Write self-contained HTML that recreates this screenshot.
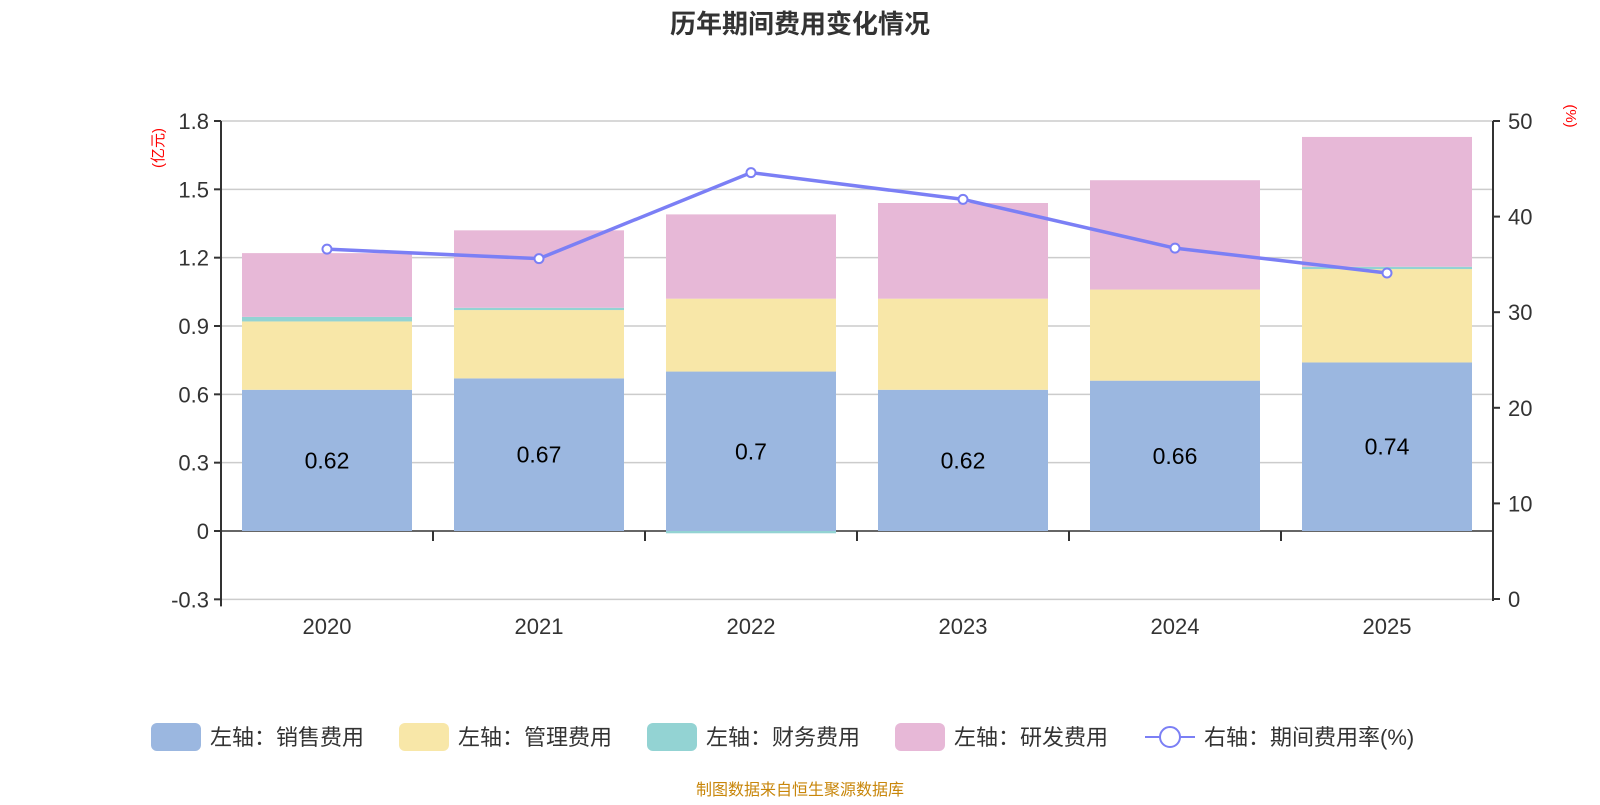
<!DOCTYPE html>
<html><head><meta charset="utf-8"><style>
body{margin:0;background:#fff;}
svg text{font-family:"Liberation Sans","Noto Sans CJK SC",sans-serif;}
</style></head><body>
<svg id="c" width="1600" height="800" xmlns="http://www.w3.org/2000/svg">
<text x="800" y="33" text-anchor="middle" font-size="26" font-weight="bold" fill="#333">历年期间费用变化情况</text>
<text transform="translate(163,148) rotate(-90)" text-anchor="middle" font-size="15" fill="#f00">(亿元)</text>
<text transform="translate(1566,116) rotate(90)" text-anchor="middle" font-size="15" fill="#f00">(%)</text>
<g id="grid"></g><g id="bars"></g><g id="axes"></g><g id="line"></g>
<text x="800" y="795" text-anchor="middle" font-size="16" fill="#c8860a">制图数据来自恒生聚源数据库</text>
</svg>
<script>
const categories=["2020","2021","2022","2023","2024","2025"];
const sales=[0.62,0.67,0.70,0.62,0.66,0.74];
const admin=[0.30,0.30,0.32,0.40,0.40,0.41];
const finance=[0.02,0.01,-0.01,0,0,0.01];
const rnd=[0.28,0.34,0.37,0.42,0.48,0.57];
const rate=[36.6,35.6,44.6,41.8,36.7,34.1];
const leftTicks=[-0.3,0,0.3,0.6,0.9,1.2,1.5,1.8];
const rightTicks=[0,10,20,30,40,50];
const NS="http://www.w3.org/2000/svg";
const L=221,R=1493,yTop=121,yZero=531;
const yL=v=>yZero-(v/0.3)*((yZero-yTop)/6);
const yR=v=>599-(v/50)*(599-yTop);
const band=(R-L)/categories.length;
const xC=i=>L+band*(i+0.5);
const bw=170;
function mk(tag,attrs,parent){const e=document.createElementNS(NS,tag);for(const k in attrs)e.setAttribute(k,attrs[k]);document.getElementById(parent).appendChild(e);return e;}
leftTicks.forEach(t=>{
 const y=yL(t);
 const g=mk('line',{x1:L,x2:R,y1:y,y2:y,stroke:t===0?'#333':'#ccc','stroke-width':1.5},'grid');
 
 
 const tl=mk('text',{x:L-12,y:y+8,'text-anchor':'end','font-size':22,fill:'#333'},'axes');tl.textContent=String(t);
 
 
 mk('line',{x1:L-7,x2:L,y1:y,y2:y,stroke:'#333','stroke-width':2},'axes');
});
rightTicks.forEach(t=>{
 const y=yR(t);
 const tl=mk('text',{x:R+15,y:y+8,'font-size':22,fill:'#333'},'axes');tl.textContent=String(t);
 
 
 mk('line',{x1:R,x2:R+7,y1:y,y2:y,stroke:'#333','stroke-width':2},'axes');
});
mk('line',{x1:L,x2:L,y1:yTop,y2:yL(-0.3)+7,stroke:'#333','stroke-width':2},'axes');
mk('line',{x1:R,x2:R,y1:yTop,y2:yR(0)+2,stroke:'#333','stroke-width':2},'axes');
for(let i=1;i<categories.length;i++){mk('line',{x1:L+band*i,x2:L+band*i,y1:yZero,y2:yZero+10,stroke:'#333','stroke-width':2},'axes');}
categories.forEach((c,i)=>{
 const t=mk('text',{x:xC(i),y:634,'text-anchor':'middle','font-size':22,fill:'#333'},'axes');t.textContent=c;
 
 
});
const series=[[sales,'#9bb7e0','bar-sales'],[admin,'#f8e7a8','bar-admin'],[finance,'#93d3d3','bar-finance'],[rnd,'#e7b8d7','bar-rnd']];
categories.forEach((c,i)=>{
 let pos=0,neg=0;
 series.forEach(([arr,col,name])=>{
  const v=arr[i];let y0,y1;
  if(v>=0){y0=pos;y1=pos+v;pos=y1;}else{y0=neg;y1=neg+v;neg=y1;}
  const top=Math.min(yL(y0),yL(y1)),h=Math.max(Math.abs(yL(y1)-yL(y0)),v!==0?2:0);
  const r=mk('rect',{x:xC(i)-bw/2,y:top,width:bw,height:h,fill:col},'bars');
  
  
 });
 const t=mk('text',{x:xC(i),y:yL(sales[i]/2)+8,'text-anchor':'middle','font-size':23,fill:'#000'},'bars');t.textContent=String(sales[i]);
 
 
});
const pts=rate.map((v,i)=>xC(i)+','+yR(v)).join(' ');
const pl=mk('polyline',{points:pts,fill:'none',stroke:'#7b7ff5','stroke-width':3.5},'line');


rate.forEach((v,i)=>{
 const p=mk('circle',{cx:xC(i),cy:yR(v),r:4.5,fill:'#fff',stroke:'#7b7ff5','stroke-width':2},'line');
 
 
});
const leg=[['rect','#9bb7e0','左轴：销售费用',151],['rect','#f8e7a8','左轴：管理费用',399],['rect','#93d3d3','左轴：财务费用',647],['rect','#e7b8d7','左轴：研发费用',895],['line','#7b7ff5','右轴：期间费用率(%)',1145]];
leg.forEach(([k,col,label,x])=>{
 if(k==='rect'){const r=mk('rect',{x:x,y:723,width:50,height:28,rx:6,fill:col},'axes');}
 else{mk('line',{x1:x,x2:x+50,y1:737,y2:737,stroke:col,'stroke-width':2},'axes');const cc=mk('circle',{cx:x+25,cy:737,r:10,fill:'#fff',stroke:col,'stroke-width':2},'axes');}
 const t=mk('text',{x:x+59,y:745,'font-size':22,fill:'#333'},'axes');t.textContent=label;
 
 
});
</script>
</body></html>
